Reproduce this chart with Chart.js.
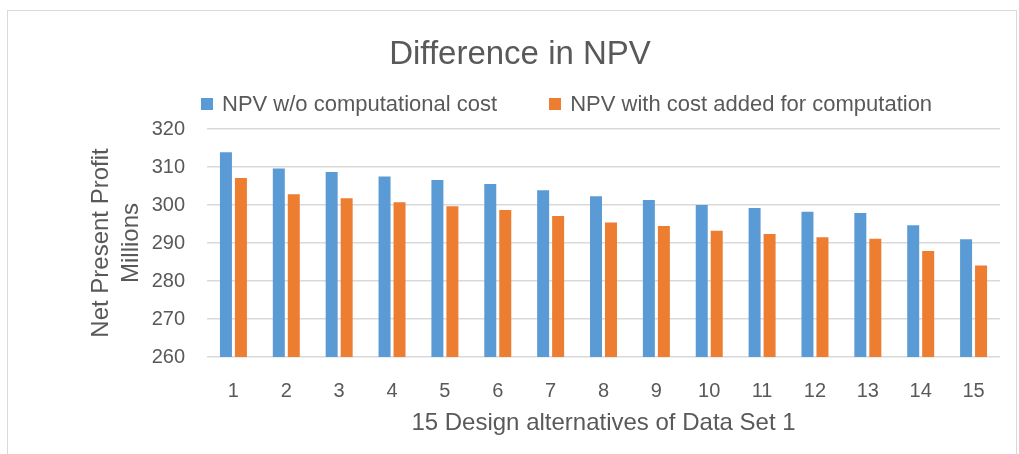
<!DOCTYPE html>
<html>
<head>
<meta charset="utf-8">
<script src="https://cdn.jsdelivr.net/npm/chart.js@4"></script>
<style>
    body { margin: 0; background: #fff; font-family: 'Liberation Sans', Arial, sans-serif; }
    #wrap { position: relative; width: 1019px; height: 454px; overflow: hidden; }
    #frame { position: absolute; left: 7px; top: 10px; width: 1008px; height: 470px; border: 1px solid #d9d9d9; }
    #chart { position: absolute; left: 0; top: 0; }
    #legend { position: absolute; left: 201px; top: 92px; height: 24px; display: flex; align-items: center; gap: 52px; color: #595959; font-size: 22px; }
    #legend .item { display: flex; align-items: center; white-space: nowrap; }
    #legend .box { width: 12px; height: 12px; margin-right: 9px; }
</style>
</head>
<body>
<div id="wrap">
    <div id="frame"></div>
    <canvas id="chart" width="1019" height="454"></canvas>
    <div id="legend"></div>
</div>
<script>
const categories = ['1', '2', '3', '4', '5', '6', '7', '8', '9', '10', '11', '12', '13', '14', '15'];
const npvNoCost = [313.9, 309.6, 308.7, 307.5, 306.6, 305.5, 303.9, 302.3, 301.3, 300.0, 299.2, 298.2, 297.9, 294.7, 291.0];
const npvWithCost = [307.1, 302.8, 301.8, 300.7, 299.7, 298.7, 297.1, 295.4, 294.5, 293.2, 292.4, 291.5, 291.1, 287.9, 284.1];
const seriesNames = ['NPV w/o computational cost', 'NPV with cost added for computation'];
const seriesColors = ['#5b9bd5', '#ed7d31'];

const textColor = '#595959';
const fontFamily = "'Liberation Sans', Arial, sans-serif";

const chart = new Chart(document.getElementById('chart').getContext('2d'), {
    type: 'bar',
    data: {
        labels: categories,
        datasets: [
            { label: seriesNames[0], data: npvNoCost, backgroundColor: seriesColors[0] },
            { label: seriesNames[1], data: npvWithCost, backgroundColor: seriesColors[1] }
        ]
    },
    options: {
        responsive: false,
        animation: false,
        categoryPercentage: 0.567,
        barPercentage: 0.8,
        layout: { padding: { left: 40, right: 19, top: 0, bottom: 0 } },
        plugins: {
            legend: { display: false },
            tooltip: { enabled: false },
            title: {
                display: true,
                text: 'Difference in NPV',
                color: textColor,
                font: { family: fontFamily, size: 33, weight: 'normal' },
                padding: { top: 35, bottom: 54.4 }
            }
        },
        scales: {
            x: {
                grid: { display: false },
                border: { display: false },
                ticks: { color: textColor, font: { family: fontFamily, size: 20 }, padding: 14 },
                title: {
                    display: true,
                    text: '15 Design alternatives of Data Set 1',
                    color: textColor,
                    font: { family: fontFamily, size: 24 },
                    padding: { top: 0, bottom: 16 }
                },
                afterFit(scale) { scale.height = 97; }
            },
            y: {
                min: 260,
                max: 320,
                grid: { color: '#d9d9d9', lineWidth: 1.5, drawTicks: false },
                border: { display: false },
                ticks: { stepSize: 10, color: textColor, font: { family: fontFamily, size: 20 }, padding: 22 },
                title: {
                    display: true,
                    text: ['Net Present Profit', 'Millions'],
                    color: textColor,
                    font: { family: fontFamily, size: 24, lineHeight: 1.25 },
                    padding: { top: 46, bottom: 0 }
                },
                afterFit(scale) { scale.width = 167; }
            }
        }
    }
});

// legend built from the datasets
const legendEl = document.getElementById('legend');
chart.data.datasets.forEach(ds => {
    const item = document.createElement('div');
    item.className = 'item';
    const box = document.createElement('span');
    box.className = 'box';
    box.style.background = ds.backgroundColor;
    const label = document.createElement('span');
    label.textContent = ds.label;
    item.appendChild(box);
    item.appendChild(label);
    legendEl.appendChild(item);
});
</script>
</body>
</html>
